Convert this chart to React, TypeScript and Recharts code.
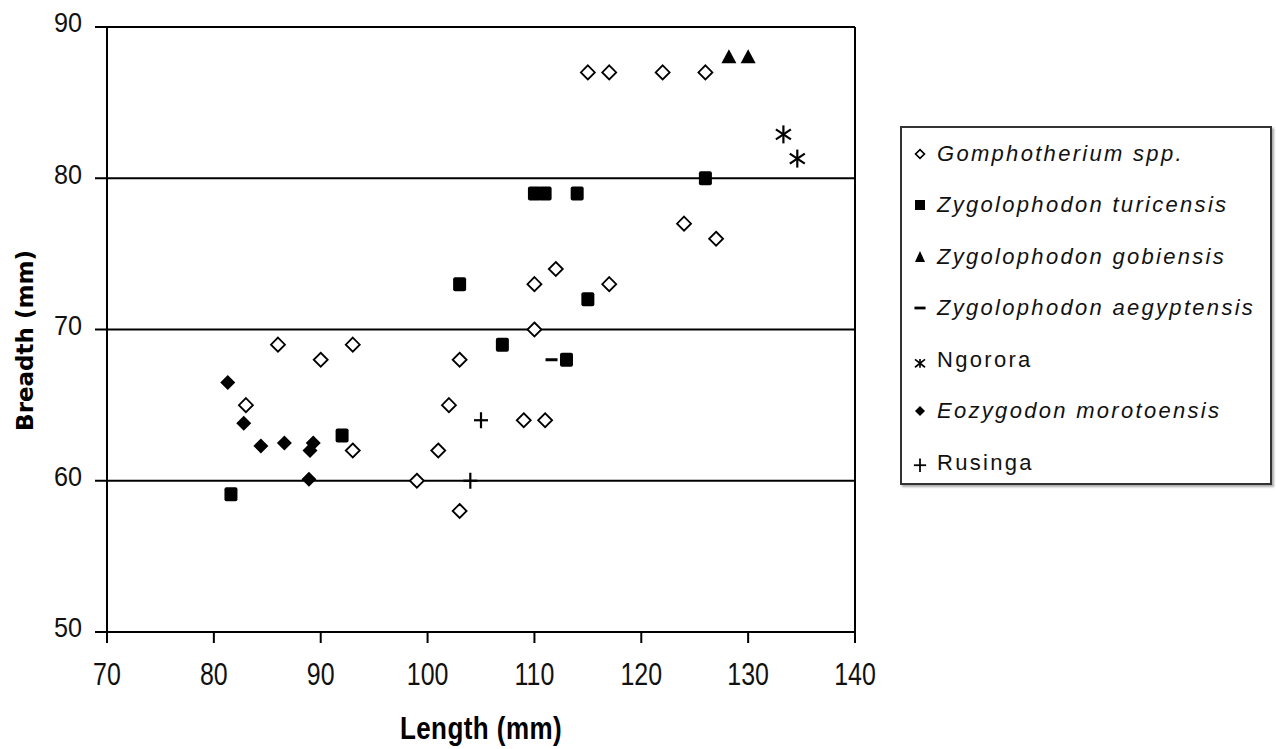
import { ScatterChart, Scatter, XAxis, YAxis, CartesianGrid, ReferenceLine } from 'recharts';

const gomphotherium = [
  { x: 115, y: 87 }, { x: 117, y: 87 }, { x: 122, y: 87 }, { x: 126, y: 87 },
  { x: 124, y: 77 }, { x: 127, y: 76 }, { x: 112, y: 74 }, { x: 110, y: 73 },
  { x: 117, y: 73 }, { x: 110, y: 70 }, { x: 103, y: 68 }, { x: 86, y: 69 },
  { x: 90, y: 68 }, { x: 93, y: 69 }, { x: 83, y: 65 }, { x: 102, y: 65 },
  { x: 109, y: 64 }, { x: 111, y: 64 }, { x: 101, y: 62 }, { x: 93, y: 62 },
  { x: 99, y: 60 }, { x: 103, y: 58 },
];
const turicensis = [
  { x: 81.6, y: 59.1 }, { x: 92, y: 63 }, { x: 103, y: 73 }, { x: 110, y: 79 },
  { x: 111, y: 79 }, { x: 114, y: 79 }, { x: 115, y: 72 }, { x: 107, y: 69 },
  { x: 113, y: 68 }, { x: 126, y: 80 },
];
const gobiensis = [{ x: 128.2, y: 88 }, { x: 130, y: 88 }];
const aegyptensis = [{ x: 111.6, y: 68 }];
const ngorora = [{ x: 133.3, y: 82.9 }, { x: 134.6, y: 81.3 }];
const morotoensis = [
  { x: 81.3, y: 66.5 }, { x: 82.8, y: 63.8 }, { x: 84.4, y: 62.3 }, { x: 86.6, y: 62.5 },
  { x: 89.3, y: 62.5 }, { x: 89, y: 62 }, { x: 88.9, y: 60.1 },
];
const rusinga = [{ x: 105, y: 64 }, { x: 104, y: 60 }];

const xTicks = [70, 80, 90, 100, 110, 120, 130, 140];
const yTicks = [50, 60, 70, 80, 90];

const sansFont = "'Liberation Sans', Arial, sans-serif";

type ShapeProps = { cx?: number; cy?: number };

const OpenDiamond = ({ cx = 0, cy = 0 }: ShapeProps) => (
  <path d={`M${cx} ${cy - 7}L${cx + 7} ${cy}L${cx} ${cy + 7}L${cx - 7} ${cy}Z`} fill="#fff" stroke="#000" strokeWidth={1.8} />
);
const FilledDiamond = ({ cx = 0, cy = 0 }: ShapeProps) => (
  <path d={`M${cx} ${cy - 7.5}L${cx + 7.5} ${cy}L${cx} ${cy + 7.5}L${cx - 7.5} ${cy}Z`} fill="#000" />
);
const Square = ({ cx = 0, cy = 0 }: ShapeProps) => (
  <rect x={cx - 6.5} y={cy - 7} width={13} height={14} rx={2} fill="#000" />
);
const Triangle = ({ cx = 0, cy = 0 }: ShapeProps) => (
  <path d={`M${cx} ${cy - 8}L${cx + 7.5} ${cy + 6}L${cx - 7.5} ${cy + 6}Z`} fill="#000" />
);
const Dash = ({ cx = 0, cy = 0 }: ShapeProps) => (
  <line x1={cx - 6} y1={cy} x2={cx + 6} y2={cy} stroke="#000" strokeWidth={3} />
);
const Star = ({ cx = 0, cy = 0 }: ShapeProps) => (
  <g stroke="#000" strokeWidth={2.2}>
    <line x1={cx} y1={cy - 9} x2={cx} y2={cy + 9} />
    <line x1={cx - 7.5} y1={cy - 5} x2={cx + 7.5} y2={cy + 5} />
    <line x1={cx - 7.5} y1={cy + 5} x2={cx + 7.5} y2={cy - 5} />
  </g>
);
const Plus = ({ cx = 0, cy = 0 }: ShapeProps) => (
  <g stroke="#000" strokeWidth={2.2}>
    <line x1={cx} y1={cy - 8} x2={cx} y2={cy + 8} />
    <line x1={cx - 7} y1={cy} x2={cx + 7} y2={cy} />
  </g>
);

// small versions for the legend
const legendIcons: Record<string, JSX.Element> = {
  open: <path d="M9 5L13 9L9 13L5 9Z" fill="#fff" stroke="#000" strokeWidth={1.5} />,
  square: <rect x={4.5} y={4.5} width={9} height={9} fill="#000" />,
  triangle: <path d="M9 3.5L13.5 13.5L4.5 13.5Z" fill="#000" />,
  dash: <line x1={4} y1={9} x2={14} y2={9} stroke="#000" strokeWidth={2.5} />,
  star: (
    <g stroke="#000" strokeWidth={1.5}>
      <line x1={9} y1={8} x2={9} y2={16} />
      <line x1={4.5} y1={8.5} x2={13.5} y2={15.5} />
      <line x1={4.5} y1={15.5} x2={13.5} y2={8.5} />
    </g>
  ),
  filled: <path d="M9 4.5L13.5 9L9 13.5L4.5 9Z" fill="#000" />,
  plus: (
    <g stroke="#000" strokeWidth={1.6}>
      <line x1={9} y1={5} x2={9} y2={17} />
      <line x1={3.5} y1={11} x2={14.5} y2={11} />
    </g>
  ),
};

const series = [
  { name: 'Gomphotherium spp.', data: gomphotherium, shape: OpenDiamond, icon: 'open', italic: true },
  { name: 'Zygolophodon turicensis', data: turicensis, shape: Square, icon: 'square', italic: true },
  { name: 'Zygolophodon gobiensis', data: gobiensis, shape: Triangle, icon: 'triangle', italic: true },
  { name: 'Zygolophodon aegyptensis', data: aegyptensis, shape: Dash, icon: 'dash', italic: true },
  { name: 'Ngorora', data: ngorora, shape: Star, icon: 'star', italic: false },
  { name: 'Eozygodon morotoensis', data: morotoensis, shape: FilledDiamond, icon: 'filled', italic: true },
  { name: 'Rusinga', data: rusinga, shape: Plus, icon: 'plus', italic: false },
];

const LegendBox = () => (
  <div
    style={{
      position: 'absolute',
      left: 900,
      top: 126,
      width: 372,
      height: 359,
      boxSizing: 'border-box',
      border: '2px solid #333',
      boxShadow: '2px 2px 2px #aaa',
      background: '#fff',
      fontFamily: sansFont,
      fontSize: 22,
      color: '#111',
    }}
  >
    {series.map((s) => (
      <div key={s.name} style={{ height: 51.5, display: 'flex', alignItems: 'center', paddingLeft: 8 }}>
        <svg width={20} height={20} viewBox="0 0 18 18">{legendIcons[s.icon]}</svg>
        <span style={{ marginLeft: 7, fontStyle: s.italic ? 'italic' : 'normal', letterSpacing: 2.3 }}>{s.name}</span>
      </div>
    ))}
  </div>
);

// the original uses a tall, narrow face; squeeze Liberation Sans horizontally
const XTick = (props: any) => {
  const { x, y, payload } = props;
  return (
    <g transform={`translate(${x},${y})`}>
      <text transform="scale(0.78,1)" textAnchor="middle" y={11} dominantBaseline="central" fontFamily={sansFont} fontSize={32} fill="#111">
        {payload.value}
      </text>
    </g>
  );
};

const YTick = (props: any) => {
  const { x, y, payload } = props;
  return (
    <g transform={`translate(${x},${y})`}>
      <text transform="scale(0.9,1)" textAnchor="end" y={-4} dominantBaseline="central" fontFamily={sansFont} fontSize={28} fill="#111">
        {payload.value}
      </text>
    </g>
  );
};

const YTitle = (props: any) => {
  const vb = props.viewBox || { x: 47, y: 27, height: 605 };
  const x = vb.x - 22;
  const y = vb.y + vb.height / 2 + 11;
  return (
    <text
      x={x}
      y={y}
      transform={`rotate(-90 ${x} ${y})`}
      textAnchor="middle"
      dominantBaseline="central"
      fontFamily="'DejaVu Sans', Verdana, sans-serif"
      fontWeight="bold"
      fontSize={23}
      fill="#000"
    >
      Breadth (mm)
    </text>
  );
};

const XTitle = (props: any) => {
  const vb = props.viewBox || { x: 107, y: 632, width: 748 };
  const cx = vb.x + vb.width / 2;
  return (
    <g transform={`translate(${cx},${vb.y + 107})`}>
      <text transform="scale(0.84,1)" textAnchor="middle" fontFamily={sansFont} fontWeight="bold" fontSize={31} letterSpacing={0.5} fill="#000">
        Length (mm)
      </text>
    </g>
  );
};

export default function App() {
  return (
    <div style={{ position: 'absolute', left: 0, top: 0, width: 1276, height: 749, background: '#fff' }}>
      <ScatterChart width={1276} height={749} margin={{ top: 27, right: 421, bottom: 87, left: 47 }}>
        <CartesianGrid vertical={false} stroke="#000" strokeWidth={2} strokeOpacity={1} />
        <XAxis
          type="number"
          dataKey="x"
          domain={[70, 140]}
          ticks={xTicks}
          interval={0}
          height={30}
          allowDataOverflow
          axisLine={{ stroke: '#000', strokeWidth: 2 }}
          tickLine={{ stroke: '#000', strokeWidth: 2 }}
          tickSize={11}
          tickMargin={20}
          tick={<XTick />}
          label={{ content: XTitle }}
        />
        <YAxis
          type="number"
          dataKey="y"
          domain={[50, 90]}
          ticks={yTicks}
          interval={0}
          width={60}
          allowDataOverflow
          axisLine={{ stroke: '#000', strokeWidth: 2 }}
          tickLine={{ stroke: '#000', strokeWidth: 2 }}
          tickSize={12}
          tickMargin={13}
          tick={<YTick />}
          label={{ content: YTitle }}
        />
        <ReferenceLine x={140} stroke="#000" strokeWidth={2} />
        {series.map((s) => (
          <Scatter key={s.name} name={s.name} data={s.data} shape={s.shape} isAnimationActive={false} />
        ))}
      </ScatterChart>
      <LegendBox />
    </div>
  );
}
